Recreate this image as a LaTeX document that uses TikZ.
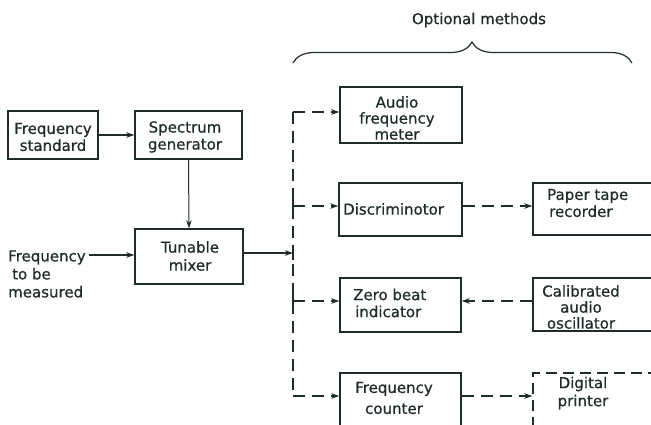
\documentclass[tikz,border=0pt]{standalone}
\usepackage{fontspec}
\setmainfont{DejaVu Sans}[BoldFont={DejaVu Sans},BoldFeatures={FakeBold=0.7}]
\usetikzlibrary{arrows.meta,decorations.pathreplacing}
\definecolor{ink}{RGB}{32,44,40}
\begin{document}
\begin{tikzpicture}[x=1pt,y=-1pt,
 box/.style={draw=ink,line width=1.4pt,rectangle,inner sep=0pt},
 dbox/.style={box,dash pattern=on 11pt off 6pt},
 lbl/.style={text=ink,font=\fontsize{15}{17}\selectfont\bfseries,inner sep=0pt,align=center},
 arr/.style={draw=ink,line width=1.2pt,-{Stealth[length=8pt,width=5.5pt,inset=2.5pt]}},
 dsh/.style={dash pattern=on 12pt off 7pt},
 bus/.style={draw=ink,line width=1.3pt}]
\useasboundingbox (0,0) rectangle (651,424);
\clip (0,0) rectangle (651,424);
% boxes
\node[box,minimum width=90pt,minimum height=48pt] (fs) at (53,135) {};
\node[box,minimum width=107pt,minimum height=48pt] (sg) at (188.5,135) {};
\node[box,minimum width=108pt,minimum height=55pt] (mx) at (189,256.5) {};
\node[box,minimum width=122pt,minimum height=56pt] (af) at (401,115) {};
\node[box,minimum width=123pt,minimum height=53pt] (dc) at (400.5,209.5) {};
\node[box,minimum width=140pt,minimum height=52pt] (pt) at (603,209) {};
\node[box,minimum width=121pt,minimum height=54pt] (zb) at (400.5,305) {};
\node[box,minimum width=140pt,minimum height=53pt] (ca) at (603,304.5) {};
\node[box,minimum width=121pt,minimum height=67pt] (fc) at (400.5,406.5) {};
\node[dbox,minimum width=140pt,minimum height=67pt] (dp) at (603,406.5) {};
% labels
\node[lbl] (title) at (479,20) {Optional methods};
\node[lbl] (fsT) at (53,137) {Frequency\\standard};
\node[lbl] (sgT) at (185,137) {Spectrum\\generator};
\node[lbl,font=\fontsize{15}{18}\selectfont\bfseries] (mxT) at (190,256) {Tunable\\mixer};
\node[lbl,font=\fontsize{15}{16}\selectfont\bfseries] (afT) at (397,118) {Audio\\frequency\\meter};
\node[lbl,anchor=west] (dcT) at (343,209) {Discriminotor};
\node[lbl,align=left,anchor=west] (ptT) at (547,203) {Paper tape\\\hspace{2pt}recorder};
\node[lbl,align=left,anchor=west] (zbT) at (353,303) {Zero beat\\\hspace{2pt}indicator};
\node[lbl,font=\fontsize{15}{16}\selectfont\bfseries] (caT) at (581,307) {Calibrated\\audio\\oscillator};
\node[lbl,font=\fontsize{15}{21}\selectfont\bfseries] (fcT) at (394,398) {Frequency\\counter};
\node[lbl,font=\fontsize{15}{18}\selectfont\bfseries] (dpT) at (583,393) {Digital\\printer};
\node[lbl,align=left,anchor=west,font=\fontsize{15}{18}\selectfont\bfseries] (finT) at (8,274) {Frequency\\\hspace{4pt}to be\\measured};
% junctions
\coordinate (fin) at (89,255);
\coordinate (j1) at (293,112);
\coordinate (j2) at (293,206);
\coordinate (j3) at (293,253);
\coordinate (j4) at (293,301);
\coordinate (j5) at (293,396);
% connectors
\draw[arr] (fs.east) -- (sg.west);
\draw[arr,line width=1pt] (sg.south) -- (mx.north);
\draw[arr] (fin) -- (fin -| mx.west);
\draw[arr] (j3 -| mx.east) -- (j3);
\draw[bus,dsh] (j1) -- (j5);
\draw[bus] ([yshift=-7pt]j2) -- ([yshift=7pt]j2);
\draw[bus] ([yshift=-7pt]j3) -- ([yshift=7pt]j3);
\draw[bus] ([yshift=-7pt]j4) -- ([yshift=7pt]j4);
\draw[arr,dsh] (j1) -- (j1 -| af.west);
\draw[arr,dsh] (j2) -- (j2 -| dc.west);
\draw[arr,dsh] (j4) -- (j4 -| zb.west);
\draw[arr,dsh] (j5) -- (j5 -| fc.west);
\draw[arr,dsh] (dc.east |- j2) -- (pt.west |- j2);
\draw[arr,dsh] (ca.west |- j4) -- (zb.east |- j4);
\draw[arr,dsh] (fc.east |- j5) -- (dp.west |- j5);
% brace
\draw[ink,line width=1.2pt,decorate,decoration={brace,amplitude=21pt,aspect=0.528}] (293,63) -- (632,63);
\end{tikzpicture}
\end{document}
